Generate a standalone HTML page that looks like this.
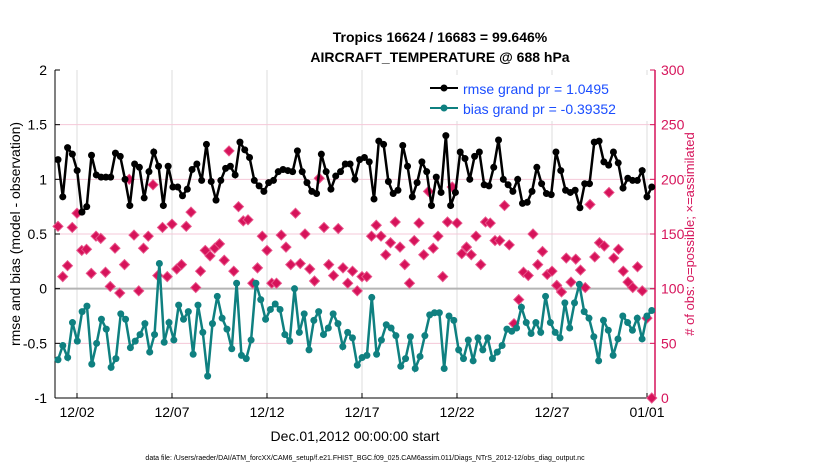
<!DOCTYPE html>
<html><head><meta charset="utf-8"><style>
body{margin:0;background:#fff;width:830px;height:470px;overflow:hidden;font-family:"Liberation Sans",sans-serif}
svg text{font-family:"Liberation Sans",sans-serif}
</style></head><body>
<svg id="chart" width="830" height="470" xmlns="http://www.w3.org/2000/svg">
<text x="440" y="42" text-anchor="middle" font-size="14" font-weight="bold">Tropics 16624 / 16683 = 99.646%</text>
<text x="440" y="62" text-anchor="middle" font-size="14" font-weight="bold">AIRCRAFT_TEMPERATURE @ 688 hPa</text>
<g id="grid"></g><g id="axes"></g><g id="marks"></g>
<text x="355" y="441" text-anchor="middle" font-size="14">Dec.01,2012 00:00:00 start</text>
<text transform="translate(20,234) rotate(-90)" text-anchor="middle" font-size="14">rmse and bias (model - observation)</text>
<text transform="translate(694,234) rotate(-90)" text-anchor="middle" font-size="13" fill="#d6135a"># of obs: o=possible; ×=assimilated</text>
<text x="365" y="460" text-anchor="middle" font-size="7">data file: /Users/raeder/DAI/ATM_forcXX/CAM6_setup/f.e21.FHIST_BGC.f09_025.CAM6assim.011/Diags_NTrS_2012-12/obs_diag_output.nc</text>
<g>
<rect x="425" y="75" width="227" height="46" fill="#fff" stroke="none"/>
<line x1="430" y1="88" x2="458" y2="88" stroke="#000" stroke-width="2"/><circle cx="444" cy="88" r="3.5" fill="#000"/>
<text x="463" y="94" font-size="14" fill="#1a4dff">rmse grand pr = 1.0495</text>
<line x1="430" y1="108" x2="458" y2="108" stroke="#0f8080" stroke-width="2"/><circle cx="444" cy="108" r="3.5" fill="#0f8080"/>
<text x="463" y="114" font-size="14" fill="#1a4dff">bias grand pr = -0.39352</text>
</g>
</svg>
<script>
const rmse=[1.18,0.84,1.29,1.23,1.08,0.70,0.75,1.22,1.04,1.02,1.02,1.02,1.24,1.21,1.0,0.76,1.14,1.11,0.83,1.07,1.25,1.12,0.76,1.12,0.93,0.93,0.85,0.91,1.09,1.14,0.99,
1.32,0.98,0.81,0.99,1.10,1.12,1.04,1.34,1.27,1.20,0.99,0.94,0.89,0.97,0.99,1.07,1.09,1.08,1.07,1.26,1.07,0.97,0.89,0.87,1.23,1.07,0.91,1.03,1.07,1.14,
1.14,1.0,1.18,1.20,1.16,0.82,1.35,1.32,0.98,0.87,0.90,1.31,1.12,0.84,0.97,1.16,1.07,0.76,1.02,0.88,1.40,0.76,0.88,1.25,1.19,1.0,1.21,1.25,0.95,0.94,1.11,1.36,1.0,
0.95,0.89,1.0,0.78,0.79,0.89,1.11,0.96,0.87,0.86,1.25,1.08,0.90,0.88,0.90,0.74,0.96,0.96,1.34,1.35,1.16,1.13,1.25,1.15,0.92,1.01,0.99,0.99,1.08,0.84,0.93];
const bias=[-0.65,-0.52,-0.63,-0.31,-0.48,-0.21,-0.16,-0.69,-0.50,-0.28,-0.37,-0.72,-0.64,-0.23,-0.28,-0.54,-0.48,-0.42,-0.32,-0.58,-0.42,0.23,-0.49,-0.31,-0.47,-0.15,-0.28,-0.21,-0.60,-0.15,-0.40,
-0.80,-0.32,-0.07,-0.27,-0.37,-0.55,0.05,-0.61,-0.64,-0.47,0.05,-0.10,-0.28,-0.19,-0.14,-0.19,-0.42,-0.48,0.0,-0.40,-0.23,-0.56,-0.29,-0.21,-0.42,-0.36,-0.23,-0.32,-0.53,-0.40,-0.45,
-0.70,-0.63,-0.61,-0.08,-0.60,-0.47,-0.33,-0.36,-0.43,-0.71,-0.64,-0.44,-0.73,-0.62,-0.43,-0.24,-0.22,-0.22,-0.73,-0.25,-0.29,-0.56,-0.64,-0.47,-0.66,-0.45,-0.56,-0.45,-0.64,-0.58,-0.52,
-0.37,-0.39,-0.36,-0.17,-0.31,-0.41,-0.31,-0.40,-0.07,-0.31,-0.40,-0.45,-0.13,-0.36,-0.13,0.04,-0.21,-0.27,-0.44,-0.66,-0.29,-0.38,-0.61,-0.46,-0.25,-0.31,-0.38,-0.27,-0.46,-0.25,-0.20];
const nobs=[157,111,121,156,169,135,136,114,148,146,115,102,137,96,122,200,149,98,137,148,195,112,156,111,159,118,122,157,170,101,116,
135,130,137,141,126,226,116,175,162,163,105,119,148,135,105,105,149,138,122,169,123,150,118,107,201,156,122,112,155,119,105,
116,98,111,111,148,158,148,131,142,161,138,122,105,144,160,131,189,137,148,111,161,193,160,132,138,131,148,122,161,160,144,
144,176,140,68,90,115,112,150,122,134,113,116,103,97,128,106,127,117,101,177,129,142,139,188,128,136,116,106,101,120,98,73,0];
const xTickLabels=['12/02','12/07','12/12','12/17','12/22','12/27','01/01'];
const xTickDays=[1,6,11,16,21,26,31];
const yTicks=[-1,-0.5,0,0.5,1,1.5,2];
const y2Ticks=[0,50,100,150,200,250,300];
const L=55,R=655,T=70,B=398,SPAN=31.25;
const xS=d=>58+d*19.0;
const yS=v=>B-(v+1)/3*(B-T);
const y2S=v=>B-v/300*(B-T);
const NS='http://www.w3.org/2000/svg';
function mk(p,tag,a){const e=document.createElementNS(NS,tag);for(const k in a)e.setAttribute(k,a[k]);p.appendChild(e);return e;}
const grid=document.getElementById('grid'),axes=document.getElementById('axes'),marks=document.getElementById('marks');
mk(grid,'rect',{x:L,y:T,width:R-L,height:B-T,fill:'#fff'});
xTickDays.forEach((d,i)=>{const x=xS(d);
 const g=mk(grid,'line',{x1:x,y1:T,x2:x,y2:B,stroke:'#dcdcdc','stroke-width':1});
 
 
 mk(axes,'line',{x1:x,y1:B,x2:x,y2:B-5,stroke:'#000'});
 const t=mk(axes,'text',{x:x,y:B+19,'text-anchor':'middle','font-size':14});t.textContent=xTickLabels[i];
 
 
});
y2Ticks.forEach(v=>{const y=y2S(v);
 if(v>0&&v<300){const g=mk(grid,'line',{x1:L,y1:y,x2:R,y2:y,stroke:'#f5c8d8','stroke-width':1});
 
 }
 mk(axes,'line',{x1:R,y1:y,x2:R-5,y2:y,stroke:'#d6135a'});
 const t=mk(axes,'text',{x:R+6,y:y+5,'font-size':14,fill:'#d6135a'});t.textContent=v;
 
 
});
const z=mk(grid,'line',{x1:L,y1:yS(0),x2:R,y2:yS(0),stroke:'#b4b4b4','stroke-width':2});


yTicks.forEach(v=>{const y=yS(v);
 mk(axes,'line',{x1:L,y1:y,x2:L+5,y2:y,stroke:'#000'});
 const t=mk(axes,'text',{x:L-8,y:y+5,'text-anchor':'end','font-size':14});t.textContent=String(v);
 
 
});
mk(axes,'line',{x1:L,y1:T,x2:L,y2:B,stroke:'#000'});
mk(axes,'line',{x1:L,y1:B,x2:R,y2:B,stroke:'#000'});
mk(axes,'line',{x1:R,y1:T,x2:R,y2:B,stroke:'#d6135a','stroke-width':1.5});
nobs.forEach((v,i)=>{const x=xS(i*SPAN/(nobs.length-1)),y=y2S(v);
 const p=mk(marks,'path',{d:`M${x-5},${y}L${x},${y-5}L${x+5},${y}L${x},${y+5}Z`,fill:'#d6135a',stroke:'#e8538a','stroke-width':1});
 
 
});
function series(arr,col,name){
 const pts=arr.map((v,i)=>[xS(i*SPAN/(arr.length-1)),yS(v)]);
 const pl=mk(marks,'polyline',{points:pts.map(p=>p.join(',')).join(' '),fill:'none',stroke:col,'stroke-width':2.5});
 
 
 pts.forEach(p=>{const c=mk(marks,'circle',{cx:p[0],cy:p[1],r:3.5,fill:col});
 
 });
}
series(rmse,'#000','rmse');
series(bias,'#0f8080','bias');
</script>
</body></html>
